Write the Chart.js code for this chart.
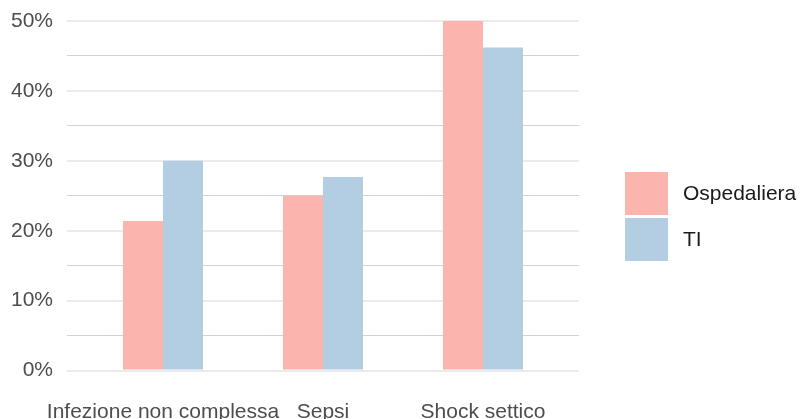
<!DOCTYPE html>
<html>
<head>
<meta charset="utf-8">
<script src="https://cdn.jsdelivr.net/npm/chart.js@4"></script>
<style>
  html, body { margin: 0; padding: 0; background: #fff; }
</style>
</head>
<body>
<canvas id="grafico" width="800" height="419"></canvas>
<script>
// dati (percentuali)
const categorie = ['Infezione non complessa', 'Sepsi', 'Shock settico']
const ospedaliera = [21.4, 25.0, 50.0]
const ti = [30.0, 27.7, 46.2]
const tickY = [0, 5, 10, 15, 20, 25, 30, 35, 40, 45, 50]

const FONT = 'Liberation Sans, Arial, Helvetica, sans-serif'

// legenda disegnata a mano, a destra come in ggplot
const legendaDestra = {
    id: 'legendaDestra',
    afterDraw(chart) {
        const ctx = chart.ctx
        ctx.save()
        chart.data.datasets.forEach((ds, i) => {
            const y = 172 + i * 46
            ctx.fillStyle = ds.backgroundColor
            ctx.fillRect(625, y, 43, 43)
            ctx.fillStyle = '#1a1a1a'
            ctx.font = '21px ' + FONT
            ctx.textBaseline = 'middle'
            ctx.textAlign = 'left'
            ctx.fillText(ds.label, 683, y + 22)
        })
        ctx.restore()
    }
}

const data = {
    datasets: [
        {
            label: 'Ospedaliera',
            data: ospedaliera.map((v, i) => ({ x: i + 1, y: v })),
            backgroundColor: '#FBB4AE'
        },
        {
            label: 'TI',
            data: ti.map((v, i) => ({ x: i + 1, y: v })),
            backgroundColor: '#B3CDE3'
        }
    ]
}

const options = {
    responsive: false,
    animation: false,
    devicePixelRatio: 1,
    layout: { padding: { top: 14, right: 221, left: 0, bottom: 0 } },
    categoryPercentage: 0.5,
    barPercentage: 1,
    plugins: {
        legend: { display: false },
        tooltip: { enabled: false }
    },
    scales: {
        x: {
            type: 'linear',
            offset: false,
            min: 0.4,
            max: 3.6,
            afterBuildTicks: s => { s.ticks = categorie.map((c, i) => ({ value: i + 1 })) },
            afterFit: s => { s.height = 31; s.paddingLeft = 0; s.paddingRight = 0 },
            grid: { display: false, drawTicks: false, offset: false },
            border: { display: false },
            ticks: {
                autoSkip: false,
                maxRotation: 0,
                padding: 12,
                color: '#4d4d4d',
                font: { family: FONT, size: 21 },
                callback: v => categorie[v - 1] || ''
            }
        },
        y: {
            min: -2.5,
            max: 51,
            afterBuildTicks: s => { s.ticks = tickY.map(v => ({ value: v })) },
            afterFit: s => { s.width = 67; s.paddingTop = 0; s.paddingBottom = 0 },
            grid: {
                drawTicks: false,
                color: c => (c.tick && c.tick.value % 10 === 0) ? '#ebebeb' : '#d2d2d2',
                lineWidth: c => (c.tick && c.tick.value % 10 === 0) ? 2 : 1
            },
            border: { display: false },
            ticks: {
                padding: 14,
                color: '#4d4d4d',
                font: { family: FONT, size: 21 },
                callback: v => v % 10 === 0 ? v + '%' : ''
            }
        }
    }
}

new Chart('grafico', { type: 'bar', data, options, plugins: [legendaDestra] })
</script>
</body>
</html>
